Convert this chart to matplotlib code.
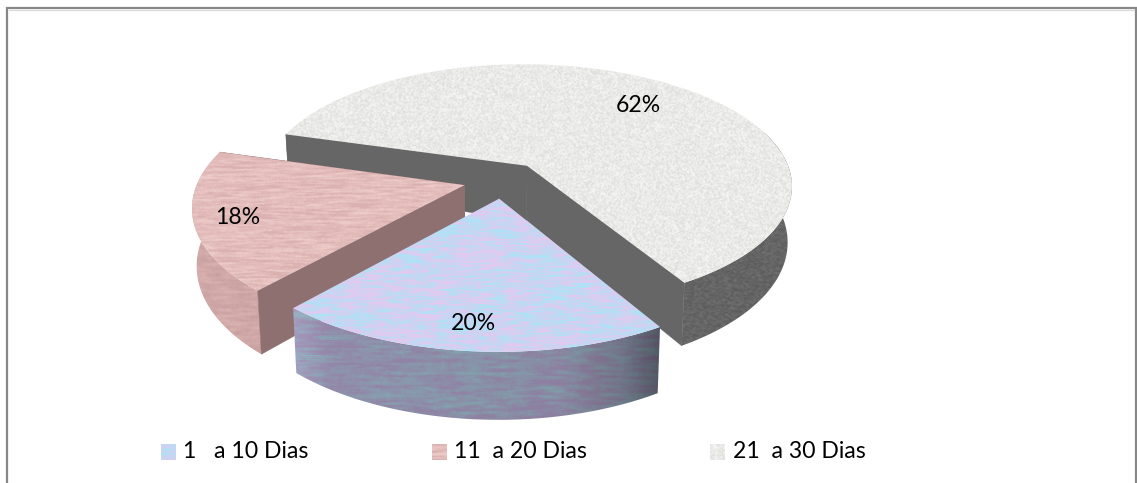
import numpy as np
import matplotlib
matplotlib.use('Agg')
import matplotlib.pyplot as plt
from matplotlib.patches import Polygon

labels = ['1   a 10 Dias', '11  a 20 Dias', '21  a 30 Dias']
values = [20, 18, 62]

W, H = 1137, 483
start_angle = -30.6      # degrees from the front of the pie, going clockwise seen from above
explode = 0.15
cx, cy = 503.0, 180.0    # pie centre on screen
rx, ry = 266.0, 122.0
persp = 0.16
depth = 55.5
shrink = 0.985           # bottom face sits a bit further from the viewer

label_xy = [(473, 323), (238, 217), (638, 105)]
legend_swatch_x = [161, 432, 710]
legend_text_x = [183, 454, 733]
legend_y = 452


def project(u, v, bottom=False):
    w = 1 - persp * v
    x = cx + rx * u / w
    y = cy + ry * v / w
    if bottom:
        x = cx + (x - cx) * shrink
        y = y + depth / w
    return x, y


def box(a, k, axis):
    if k <= 1:
        return a
    kern = np.ones(k) / k
    return np.apply_along_axis(lambda r: np.convolve(r, kern, mode='same'), axis, a)


def grain(kx, ky, seed):
    yy, xx = np.mgrid[0:H, 0:W]
    n = np.sin(xx * 12.9898 + yy * 78.233 + seed) * 43758.5453
    n = n - np.floor(n)
    n = box(box(n, kx, 1), ky, 0)
    return (n - n.mean()) / n.std()


def texture(c1, c2, kx, ky, seed, amount=1.0, shade=None, blotch=None):
    n = grain(kx, ky, seed)
    if blotch is not None:
        n = 0.6 * n + 0.8 * grain(blotch[0], blotch[1], seed + 7.0)
    yy, xx = np.mgrid[0:H, 0:W]
    t = np.clip(0.5 + 0.28 * amount * n, 0, 1)[..., None]
    img = np.array(matplotlib.colors.to_rgb(c1)) * (1 - t) + np.array(matplotlib.colors.to_rgb(c2)) * t
    if shade is not None:
        img = img * shade(xx, yy)[..., None]
    return np.clip(img, 0, 1)


def fill(ax, pts, img, z):
    patch = Polygon(pts, closed=True, transform=ax.transData, fc='none', ec='none', zorder=z)
    ax.add_patch(patch)
    im = ax.imshow(img, extent=(0, W, H, 0), aspect='auto', interpolation='bilinear', zorder=z)
    im.set_clip_path(patch)


def flat(ax, pts, color, z):
    ax.add_patch(Polygon(pts, closed=True, fc=color, ec=color, lw=0.4, zorder=z))


fig = plt.figure(figsize=(W / 100, H / 100), dpi=100)
ax = fig.add_axes([0, 0, 1, 1])
ax.set_xlim(0, W)
ax.set_ylim(H, 0)
ax.axis('off')

blue_top = texture('#aee2f6', '#e0caf0', 12, 2, 1.0, 1.7, blotch=(50, 10))
red_top = texture('#dab0b0', '#eccac8', 18, 2, 2.0, 1.0)
grey_top = texture('#e0e0de', '#f4f4f2', 2, 2, 3.0, 0.9)
blue_side = texture('#86a6b2', '#9486a8', 20, 3, 4.0, 1.5,
                    lambda x, y: np.interp(x, [292, 330, 560, 620, 660], [1.12, 1.0, 0.95, 0.8, 0.58]),
                    blotch=(70, 8))
red_side = texture('#c8a0a0', '#d8b0ae', 14, 3, 5.0, 0.9)
grey_side = texture('#5c5c5c', '#6e6e6e', 3, 2, 6.0, 0.9)

swatches = [blue_top, red_top, grey_top]
sides = [blue_side, red_side, grey_side]
cut_colors = [None, '#8f7070', '#666666']   # the blue slice shows no cut face

# slice angles come from the values
fracs = np.array(values) / np.sum(values)
edges = start_angle + np.concatenate([[0], np.cumsum(fracs)]) * 360

draw_order = [2, 1, 0]
for n, i in enumerate(draw_order):
    a0, a1 = np.radians(edges[i]), np.radians(edges[i + 1])
    mid = (a0 + a1) / 2
    ou, ov = -np.sin(mid) * explode, np.cos(mid) * explode
    t = np.linspace(a0, a1, 300)
    u = ou - np.sin(t)
    v = ov + np.cos(t)

    top = np.column_stack(project(u, v))
    bot = np.column_stack(project(u, v, bottom=True))
    apex = np.array(project(ou, ov))
    apex_b = np.array(project(ou, ov, bottom=True))
    base = 10 + n * 10

    # outer wall, only the part that can be seen from the front
    idx = np.where(v > ov - 0.3)[0]
    wall = np.vstack([top[idx], bot[idx][::-1]])
    fill(ax, wall, sides[i], base)

    # cut faces
    if cut_colors[i] is not None:
        flat(ax, [apex, top[0], bot[0], apex_b], cut_colors[i], base + 1)
        flat(ax, [apex, top[-1], bot[-1], apex_b], cut_colors[i], base + 1)

    # top face
    fill(ax, np.vstack([apex, top]), swatches[i], base + 2)

for i, (x, y) in enumerate(label_xy):
    ax.text(x, y, '%d%%' % values[i], fontsize=16.6, family='Lato', ha='center', va='center',
            color='black', zorder=50)

# legend
for i in range(3):
    sx = legend_swatch_x[i]
    fill(ax, [(sx, 444), (sx + 15, 444), (sx + 15, 460), (sx, 460)], swatches[i], 40)
    ax.text(legend_text_x[i], legend_y, labels[i], fontsize=16.6, family='Lato', ha='left', va='center',
            color='black', zorder=50)

# chart frame, open at the bottom
ax.plot([7, 7, 1135.5, 1135.5], [H, 8, 8, H], color='#888888', lw=1.6, zorder=60, solid_joinstyle='miter')
ax.plot([8.5, 1134], [9.5, 9.5], color='#d8d8d8', lw=0.8, zorder=60)

ax.set_xlim(0, W)
ax.set_ylim(H, 0)
fig.savefig('out.png', dpi=100)
